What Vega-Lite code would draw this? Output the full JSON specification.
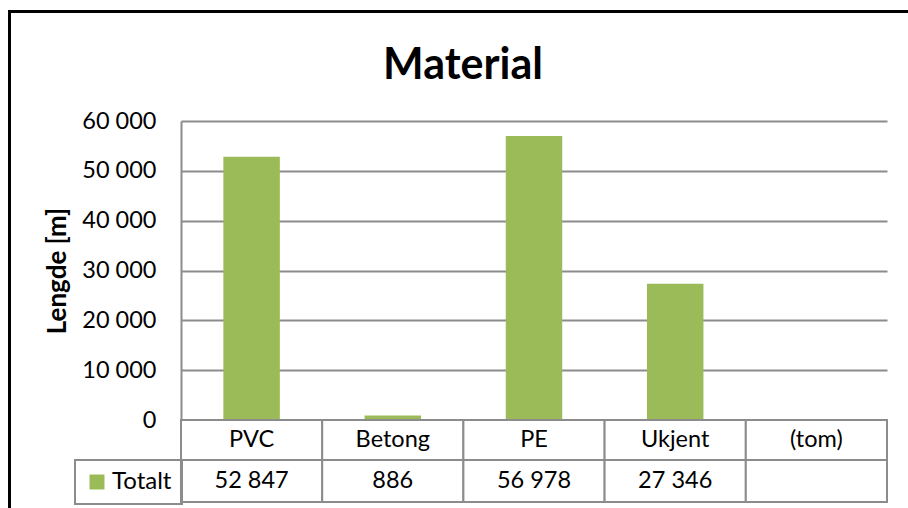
{
  "$schema": "https://vega.github.io/schema/vega-lite/v6.json",
  "background": "white",
  "padding": {"left": 8, "top": 10, "right": 0, "bottom": 0},
  "datasets": {
    "material": [
      {"material": "PVC", "serie": "Totalt", "lengde": 52847},
      {"material": "Betong", "serie": "Totalt", "lengde": 886},
      {"material": "PE", "serie": "Totalt", "lengde": 56978},
      {"material": "Ukjent", "serie": "Totalt", "lengde": 27346},
      {"material": "(tom)", "serie": "Totalt", "lengde": null}
    ],
    "blank": []
  },
  "config": {
    "font": "Lato",
    "locale": {"number": {"decimal": ",", "thousands": "\u00a0", "grouping": [3], "currency": ["", " kr"]}},
    "view": {"stroke": null},
    "text": {"fontSize": 23.5, "color": "#000000"},
    "legend": {"strokeWidth": 2}
  },
  "spacing": 0,
  "vconcat": [
    {
      "data": {"name": "blank"},
      "mark": "rect",
      "encoding": {},
      "width": 900,
      "height": 3,
      "view": {"fill": "#000000", "stroke": null}
    },
    {
      "spacing": 33,
      "hconcat": [
        {
          "data": {"name": "blank"},
          "mark": "rect",
          "encoding": {},
          "width": 3,
          "height": 495,
          "view": {"fill": "#000000", "stroke": null}
        },
        {
          "spacing": 21,
          "resolve": {"legend": {"color": "independent"}},
          "vconcat": [
            {
              "data": {"name": "blank"},
              "mark": "rect",
              "encoding": {},
              "width": 706,
              "height": 28,
              "title": {
                "text": "Material",
                "orient": "bottom",
                "anchor": "middle",
                "dx": -71,
                "offset": 4,
                "fontSize": 43,
                "fontWeight": "bold",
                "color": "#000000"
              }
            },
            {
              "spacing": 0,
              "bounds": "flush",
              "vconcat": [
                {
                  "data": {"name": "material"},
                  "transform": [{"filter": "datum.lengde != null"}],
                  "width": 706,
                  "height": 299,
                  "mark": {"type": "bar", "width": {"band": 0.4}},
                  "encoding": {
                    "x": {
                      "field": "material",
                      "type": "nominal",
                      "sort": null,
                      "scale": {"domain": ["PVC", "Betong", "PE", "Ukjent", "(tom)"], "paddingInner": 0, "paddingOuter": 0},
                      "axis": null
                    },
                    "y": {
                      "field": "lengde",
                      "type": "quantitative",
                      "scale": {"domain": [0, 60000], "nice": false},
                      "axis": {
                        "values": [0, 10000, 20000, 30000, 40000, 50000, 60000],
                        "format": ",d",
                        "grid": true,
                        "gridColor": "#8c8c8c",
                        "gridWidth": 2,
                        "domainColor": "#8c8c8c",
                        "domainWidth": 2,
                        "ticks": false,
                        "labelPadding": 25,
                        "labelFontSize": 23.5,
                        "labelColor": "#000000",
                        "title": "Lengde [m]",
                        "titleFontSize": 26,
                        "titleFontWeight": "bold",
                        "titleColor": "#000000",
                        "titlePadding": 11
                      }
                    },
                    "color": {
                      "field": "serie",
                      "type": "nominal",
                      "scale": {"range": ["#9bbb59"]},
                      "legend": {
                        "title": null,
                        "orient": "none",
                        "legendX": -106,
                        "legendY": 339,
                        "symbolType": "square",
                        "symbolSize": 225,
                        "symbolStrokeWidth": 0,
                        "labelFontSize": 24,
                        "labelColor": "#000000",
                        "labelOffset": 3,
                        "padding": 10,
                        "strokeColor": "#8c8c8c"
                      }
                    }
                  }
                },
                {
                  "data": {"name": "material"},
                  "width": 706,
                  "height": 40,
                  "encoding": {
                    "x": {
                      "field": "material",
                      "type": "nominal",
                      "sort": null,
                      "scale": {"domain": ["PVC", "Betong", "PE", "Ukjent", "(tom)"], "paddingInner": 0, "paddingOuter": 0},
                      "axis": null
                    }
                  },
                  "layer": [
                    {"mark": {"type": "rect", "fill": "#ffffff", "stroke": "#8c8c8c", "strokeWidth": 2}},
                    {"mark": {"type": "text"}, "encoding": {"text": {"field": "material"}}}
                  ]
                },
                {
                  "data": {"name": "material"},
                  "width": 706,
                  "height": 42,
                  "encoding": {
                    "x": {
                      "field": "material",
                      "type": "nominal",
                      "sort": null,
                      "scale": {"domain": ["PVC", "Betong", "PE", "Ukjent", "(tom)"], "paddingInner": 0, "paddingOuter": 0},
                      "axis": null
                    }
                  },
                  "layer": [
                    {"mark": {"type": "rect", "fill": "#ffffff", "stroke": "#8c8c8c", "strokeWidth": 2}},
                    {
                      "transform": [{"filter": "datum.lengde != null"}],
                      "mark": {"type": "text"},
                      "encoding": {"text": {"field": "lengde", "type": "quantitative", "format": ",d"}}
                    }
                  ]
                }
              ]
            }
          ]
        }
      ]
    }
  ]
}
